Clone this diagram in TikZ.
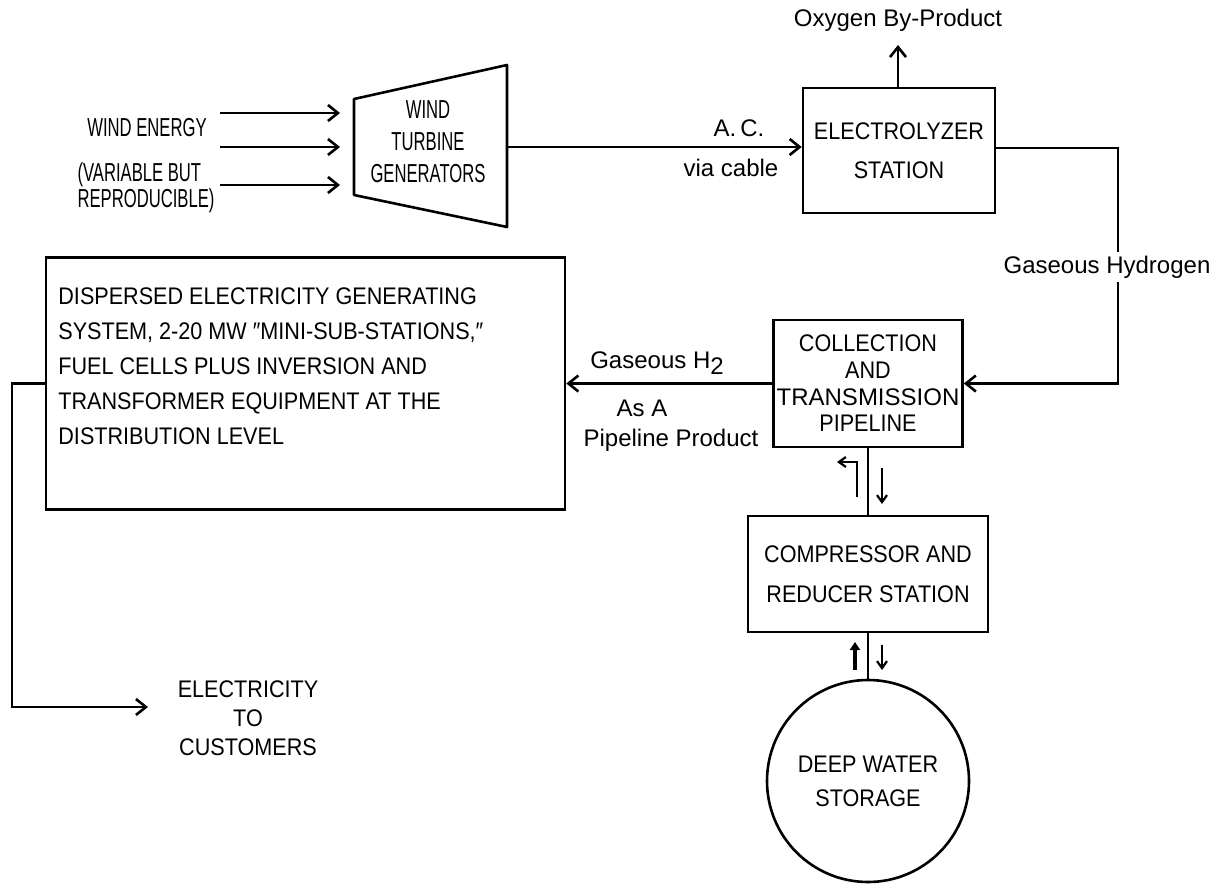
\documentclass[tikz,border=0pt]{standalone}
\usepackage{fontspec}
\setmainfont{Liberation Sans}[FakeStretch=0.9]
\newfontfamily\narrowfont{Liberation Sans}[FakeStretch=0.64]
\newfontfamily\widefont{Liberation Sans}[FakeStretch=1.0]
\usetikzlibrary{arrows.meta}

\begin{document}
\begin{tikzpicture}[x=0.5pt,y=-0.5pt,
    txt/.style={font=\fontsize{12}{#1}\selectfont,align=center,inner sep=0pt},
    ntxt/.style={font=\narrowfont\fontsize{13}{#1}\selectfont,align=center,inner sep=0pt},
    wtxt/.style={font=\widefont\fontsize{12}{#1}\selectfont,align=center,inner sep=0pt},
    box/.style={draw,line width=1.3pt,inner sep=0pt},
    flow/.style={line width=1.3pt,-{Straight Barb[length=5pt,width=8pt,line width=1.3pt]}},
    small/.style={line width=1.1pt,-{Straight Barb[length=3.5pt,width=5pt,line width=1.1pt]}},
    pipe/.style={line width=1.3pt}]
  \useasboundingbox (0,0) rectangle (1214,883);
  % Wind energy input
  \node[ntxt=14] (wind) at (147,128) {WIND ENERGY};
  \node[ntxt=11,align=left] (windnote) at (146,188) {(VARIABLE BUT\\REPRODUCIBLE)};
  \foreach \y [count=\i] in {113,147,185}{
    \coordinate (ws\i) at (220,\y);
    \coordinate (we\i) at (340,\y);
    \draw[flow] (ws\i) -- (we\i);
  }
  % Turbine generators (trapezoid)
  \coordinate (tl) at (354,99);
  \coordinate (tr) at (507,65);
  \coordinate (br) at (507,227);
  \coordinate (bl) at (354,195);
  \draw[line width=1.3pt,line join=round] (tl) -- (tr) -- (br) -- (bl) -- cycle;
  \node[ntxt=16] (wtg) at (428,142) {WIND\\TURBINE\\GENERATORS};
  \coordinate (wtgout) at (507,147);
  % Electrolyzer
  \node[box,txt=19.5,minimum width=96pt,minimum height=62.5pt] (elec) at (899,150.5) {ELECTROLYZER\\STATION};
  \draw[flow] (wtgout) -- (wtgout -| elec.west);
  \node[wtxt=14] (ac) at (739,128) {A.\,C.};
  \node[wtxt=14] (cable) at (731,168) {via cable};
  % Oxygen
  \node[wtxt=14] (oxy) at (898,20) {Oxygen By-Product};
  \coordinate (oxytip) at (898,45);
  \draw[flow] (elec.north -| oxytip) -- (oxytip);
  % Collection and transmission pipeline
  \node[box,txt=13.3,minimum width=94.5pt,minimum height=63.5pt] (coll) at (868,383.5) {COLLECTION\\AND\\{\widefont TRANSMISSION}\\PIPELINE};
  \coordinate (hup) at (1118,148);
  \coordinate (hdown) at (1118,383.5);
  \draw[flow] (elec.east |- hup) -- (hup) -- (hdown) -- (coll.east);
  \node[wtxt=14,fill=white,inner sep=2pt] (hyd) at (1107,267) {Gaseous Hydrogen};
  % Dispersed generating system
  \node[box,minimum width=259.5pt,minimum height=126pt] (disp) at (305.5,383.5) {};
  \node[txt=17.5,anchor=west,align=left] (disptext) at (58,366.5)
    {DISPERSED ELECTRICITY GENERATING\\SYSTEM, 2-20 MW ″MINI-SUB-STATIONS,″\\FUEL CELLS PLUS INVERSION AND\\TRANSFORMER EQUIPMENT AT THE\\DISTRIBUTION LEVEL};
  \draw[flow] (coll.west) -- (disp.east);
  \node[wtxt=14] (gas) at (657,363) {Gaseous H\raisebox{-3pt}{2}};
  \node[wtxt=14] (asa) at (642,408) {As A};
  \node[wtxt=14] (prod) at (671,440) {Pipeline Product};
  % Electricity to customers
  \coordinate (e1) at (12,383.5);
  \coordinate (e2) at (12,707);
  \coordinate (etip) at (148,707);
  \draw[flow] (disp.west) -- (e1) -- (e2) -- (etip);
  \node[txt=14.5] (cust) at (248,718) {ELECTRICITY\\TO\\CUSTOMERS};
  % Compressor and reducer station
  \node[box,txt=20,minimum width=120pt,minimum height=58pt] (comp) at (868,574) {COMPRESSOR AND\\REDUCER STATION};
  \draw[pipe] (coll.south) -- (comp.north);
  \coordinate (ua) at (857,497);
  \coordinate (ub) at (857,462);
  \coordinate (uc) at (837,462);
  \draw[small] (ua) -- (ub) -- (uc);
  \coordinate (da) at (882,468);
  \coordinate (db) at (882,504);
  \draw[small] (da) -- (db);
  % Deep water storage
  \node[box,circle,txt=17,minimum size=101pt] (stor) at (868,781) {DEEP WATER\\STORAGE};
  \draw[pipe] (comp.south) -- (stor.north);
  \coordinate (sa) at (855,670);
  \coordinate (sb) at (855,642);
  \draw[line width=1.6pt,-{Triangle[length=4pt,width=5pt]}] (sa) -- (sb);
  \coordinate (sc) at (882,645);
  \coordinate (sd) at (882,670);
  \draw[small] (sc) -- (sd);
\end{tikzpicture}
\end{document}
